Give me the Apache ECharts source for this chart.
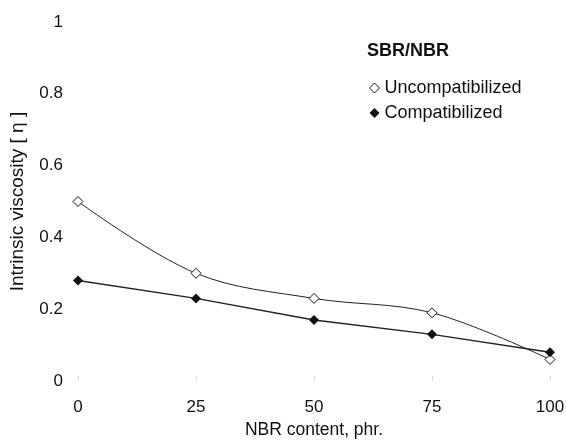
<!DOCTYPE html>
<html><head><meta charset="utf-8">
<script src="https://cdn.jsdelivr.net/npm/echarts@6/dist/echarts.min.js"></script>
<style>html,body{margin:0;padding:0;background:#fff}#c{width:566px;height:440px}</style>
</head><body><div id="c"></div>
<script>
const nbrContent = [0, 25, 50, 75, 100];
const uncompatibilized = [0.50, 0.30, 0.23, 0.19, 0.06];
const compatibilized = [0.28, 0.23, 0.17, 0.13, 0.08];
const yTicks = [0, 0.2, 0.4, 0.6, 0.8, 1];

const chart = echarts.init(document.getElementById('c'));
const font = 'Liberation Sans, Arial, sans-serif';
chart.setOption({
  animation: false,
  backgroundColor: '#fff',
  textStyle: {fontFamily: font},
  grid: {left: 78, right: 16, top: 22, bottom: 59, containLabel: false, outerBoundsMode: 'none'},
  graphic: [{type: 'text', left: 367, top: 42, style: {text: 'SBR/NBR', font: 'bold 18px ' + font, fill: '#111'}}],
  legend: {
    orient: 'vertical', left: 364, top: 74, itemGap: 7,
    itemWidth: 10, itemHeight: 10,
    textStyle: {fontSize: 18, lineHeight: 18, color: '#111', fontFamily: font},
    data: [
      {name: 'Uncompatibilized', icon: 'diamond', itemStyle: {color: '#fff', borderColor: '#111', borderWidth: 1}},
      {name: 'Compatibilized', icon: 'diamond', itemStyle: {color: '#111'}}
    ]
  },
  xAxis: {
    type: 'value', min: 0, max: 100, interval: 25,
    name: 'NBR content, phr.', nameLocation: 'middle', nameGap: 40,
    nameTextStyle: {fontSize: 17.5, color: '#111'},
    axisLine: {show: false}, axisTick: {show: true, inside: true, length: 5, lineStyle: {color: '#ddd'}},
    splitLine: {show: false},
    axisLabel: {fontSize: 17, color: '#111', margin: 18}
  },
  yAxis: {
    type: 'value', min: 0, max: 1, interval: 0.2,
    name: 'Intrinsic viscosity [ η ]', nameLocation: 'middle', nameGap: 51,
    nameTextStyle: {fontSize: 19, color: '#111'},
    axisLine: {show: false}, axisTick: {show: false},
    splitLine: {show: false},
    axisLabel: {fontSize: 17, color: '#111', margin: 15, formatter: v => String(+v.toFixed(1))}
  },
  series: [
    {name: 'Uncompatibilized', type: 'line', smooth: 0.35,
     data: nbrContent.map((x, i) => [x, uncompatibilized[i]]),
     symbol: 'diamond', symbolSize: 10,
     itemStyle: {color: '#fff', borderColor: '#111', borderWidth: 1},
     lineStyle: {color: '#222', width: 1}},
    {name: 'Compatibilized', type: 'line', smooth: false,
     data: nbrContent.map((x, i) => [x, compatibilized[i]]),
     symbol: 'diamond', symbolSize: 10,
     itemStyle: {color: '#111'},
     lineStyle: {color: '#222', width: 1.4}}
  ]
});
</script></body></html>
